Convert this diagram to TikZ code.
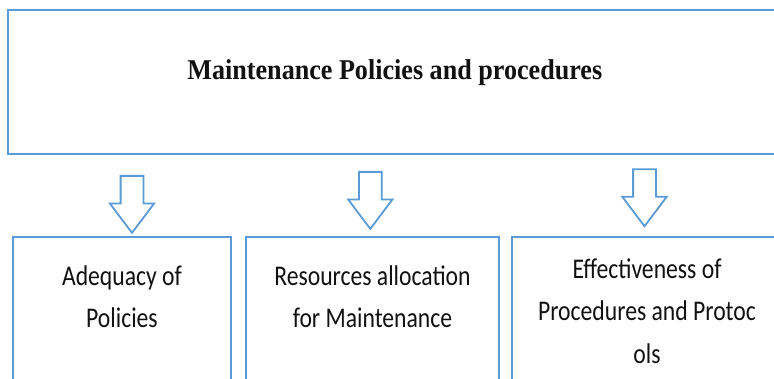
\documentclass[tikz,border=0pt]{standalone}
\usepackage{fontspec}
\setmainfont{Liberation Serif}
\newfontfamily\titlefont[FakeStretch=0.91]{Liberation Serif}
\newfontfamily\boxfont[FakeStretch=0.83]{Carlito}
\usetikzlibrary{positioning,shapes.arrows}
\definecolor{frameblue}{HTML}{5B9BD5}
\definecolor{ink}{HTML}{111111}
\tikzset{
  frame/.style={
    draw=frameblue,
    fill=white,
    line width=2.4pt,
    inner sep=0pt
  },
  headbox/.style={frame,minimum width=774pt,minimum height=144pt},
  itembox/.style={frame,minimum height=160pt},
  headtext/.style={
    text=ink,
    anchor=base,
    inner sep=0pt,
    font=\titlefont\bfseries\fontsize{28.7}{34}\selectfont
  },
  % base anchor sits on the last line
  itemtext/.style={
    text=ink,
    anchor=base,
    align=center,
    inner sep=0pt,
    font=\boxfont\fontsize{28.5}{42.5}\selectfont
  },
  downarrow/.style={
    draw=frameblue,
    fill=white,
    line width=1.8pt,
    single arrow,
    shape border rotate=270,
    minimum height=57pt,
    single arrow head extend=10.8pt,
    single arrow tip angle=74,
    inner sep=10.5pt
  }
}

\begin{document}
\begin{tikzpicture}[x=1pt,y=-1pt]
  \useasboundingbox (0,0) rectangle (774,379);
  \clip (0,0) rectangle (774,379);

  % Heading box across the top.
  \node[headbox] (policies) at (395,82) {};
  \node[headtext] (policiestitle) at (394.8,79.3)
    {Maintenance Policies and procedures};

  % The three areas below it.
  \node[itembox,minimum width=218pt] (adequacy) at (122,317) {};
  \node[itembox,minimum width=253pt] (resources) at (372.5,317) {};
  \node[itembox,minimum width=270pt] (effect) at (647,317) {};

  \node[itemtext] (adequacytext) at (122,328)
    {Adequacy of\\Policies};
  \node[itemtext] (resourcestext) at (372.5,328)
    {Resources allocation\\for Maintenance};
  \node[itemtext] (effecttext) at (647,363)
    {Effectiveness of\\Procedures and Protoc\\ols};

  % Block arrows between the heading and each area.
  \node[downarrow] (toadequacy) at (132,196.8) {};
  \node[downarrow] (toresources) at (370.3,192.8) {};
  \node[downarrow] (toeffect) at (644.5,190.2) {};

\end{tikzpicture}
\end{document}
